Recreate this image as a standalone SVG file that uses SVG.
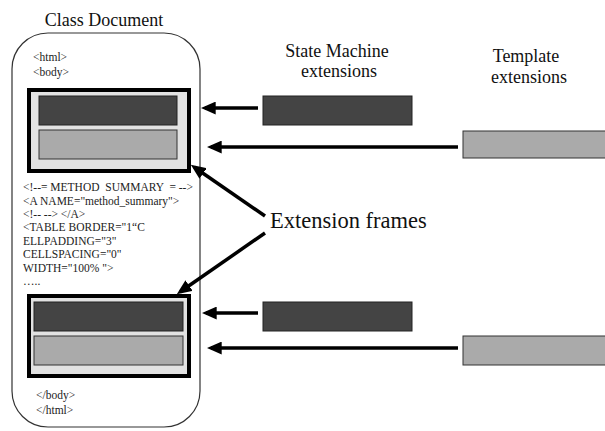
<svg xmlns="http://www.w3.org/2000/svg" width="605" height="431" viewBox="0 0 605 431">
<style>
.t{font-family:"Liberation Serif","Times New Roman",serif;fill:#111;white-space:pre}
.h{font-size:18px}
.c{font-size:11.5px;fill:#222}
.frame{fill:#e2e2e2;stroke:#000;stroke-width:4}
.dark{fill:#444;stroke:#222;stroke-width:1}
.light{fill:#aaa;stroke:#333;stroke-width:1}
.arr{stroke:#000;stroke-width:3.5;fill:none;marker-end:url(#ah)}
</style>
<defs>
<marker id="ah" markerUnits="userSpaceOnUse" markerWidth="15" markerHeight="13" refX="10" refY="6" orient="auto" viewBox="0 0 14 12">
<path d="M0,0 L14,6 L0,12 z" fill="#000"/>
</marker>
</defs>
<rect width="605" height="431" fill="#fff"/>
<g id="class-document">
<text class="t h" x="104" y="25.5" text-anchor="middle">Class Document</text>
<rect x="12" y="33" width="188" height="394" rx="36" ry="36" fill="#fff" stroke="#333" stroke-width="1.2"/>
<text class="t c" x="33" y="61">&lt;html&gt;</text>
<text class="t c" x="33" y="76">&lt;body&gt;</text>
<text class="t c" x="23" y="191" xml:space="preserve">&lt;!--= METHOD  SUMMARY  = --&gt;</text>
<text class="t c" x="23" y="205">&lt;A NAME="method_summary"&gt;</text>
<text class="t c" x="23" y="218">&lt;!-- --&gt; &lt;/A&gt;</text>
<text class="t c" x="23" y="231">&lt;TABLE BORDER="1“C</text>
<text class="t c" x="23" y="245">ELLPADDING="3"</text>
<text class="t c" x="23" y="258">CELLSPACING="0"</text>
<text class="t c" x="23" y="272">WIDTH="100% "&gt;</text>
<text class="t c" x="23" y="285">…..</text>
<text class="t c" x="36" y="399">&lt;/body&gt;</text>
<text class="t c" x="36" y="414">&lt;/html&gt;</text>
</g>
<g id="frame-top">
<rect class="frame" x="29" y="90" width="160" height="81"/>
<rect class="dark" x="39" y="96" width="138" height="29"/>
<rect class="light" x="39" y="130" width="138" height="29"/>
</g>
<g id="frame-bottom">
<rect class="frame" x="29" y="296" width="160" height="80"/>
<rect class="dark" x="34" y="302" width="149" height="29"/>
<rect class="light" x="34" y="336" width="149" height="29"/>
</g>
<g id="state-machine">
<text class="t h" x="337" y="56.5" text-anchor="middle">State Machine</text>
<text class="t h" x="339" y="76.5" text-anchor="middle">extensions</text>
<rect class="dark" x="263" y="96" width="149" height="29"/>
<rect class="dark" x="263" y="302" width="149" height="29"/>
</g>
<g id="template">
<text class="t h" x="526" y="62" text-anchor="middle">Template</text>
<text class="t h" x="529" y="83" text-anchor="middle">extensions</text>
<rect class="light" x="463" y="131" width="150" height="27"/>
<rect class="light" x="463" y="336" width="150" height="29"/>
</g>
<g id="extension-frames-label">
<text class="t" x="270" y="228" font-size="22.5px">Extension frames</text>
</g>
<g id="connectors">
<line class="arr" x1="258" y1="108" x2="205" y2="108"/>
<line class="arr" x1="458" y1="147" x2="211" y2="147"/>
<line class="arr" x1="258" y1="313" x2="206" y2="313"/>
<line class="arr" x1="458" y1="348" x2="211" y2="348"/>
<line class="arr" x1="265" y1="216" x2="194.3" y2="167.3"/>
<line class="arr" x1="265" y1="233" x2="180.3" y2="291.7"/>
</g>
</svg>
